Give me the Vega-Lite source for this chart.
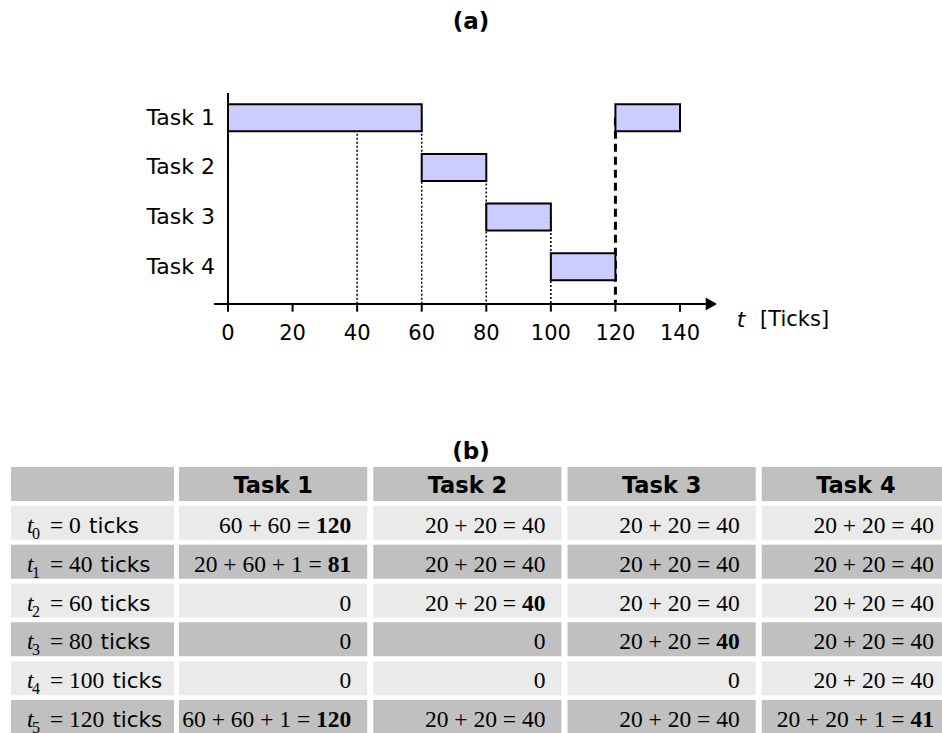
{
  "$schema": "https://vega.github.io/schema/vega-lite/v6.json",
  "width": 942,
  "height": 733,
  "autosize": {"type": "fit", "contains": "padding"},
  "padding": 0,
  "background": "white",
  "config": {"view": {"stroke": null}, "axis": {"disable": true}, "legend": {"disable": true}},
  "datasets": {
    "bars": [
      {"task": "Task 1", "row": 4, "start": 0, "end": 60},
      {"task": "Task 1", "row": 4, "start": 120, "end": 140},
      {"task": "Task 2", "row": 3, "start": 60, "end": 80},
      {"task": "Task 3", "row": 2, "start": 80, "end": 100},
      {"task": "Task 4", "row": 1, "start": 100, "end": 120}
    ],
    "tasks": [
      {"task": "Task 1", "row": 4},
      {"task": "Task 2", "row": 3},
      {"task": "Task 3", "row": 2},
      {"task": "Task 4", "row": 1}
    ],
    "dotted": [
      {"t": 40, "row": 4},
      {"t": 60, "row": 4},
      {"t": 80, "row": 3},
      {"t": 100, "row": 2}
    ],
    "dashed": [{"t": 120, "row": 4}],
    "ticks": [{"tick": 0}, {"tick": 20}, {"tick": 40}, {"tick": 60}, {"tick": 80}, {"tick": 100}, {"tick": 120}, {"tick": 140}],
    "panels": [{"panel": "(a)"}, {"panel": "(b)"}],
    "rows": [
      {"row": "head", "sub": "", "time": ""},
      {"row": "t0", "sub": "0", "time": "0"},
      {"row": "t1", "sub": "1", "time": "40"},
      {"row": "t2", "sub": "2", "time": "60"},
      {"row": "t3", "sub": "3", "time": "80"},
      {"row": "t4", "sub": "4", "time": "100"},
      {"row": "t5", "sub": "5", "time": "120"}
    ],
    "cells": [
      {"row": "head", "task": "Task 1", "expr": "", "value": "", "bold": false},
      {"row": "head", "task": "Task 2", "expr": "", "value": "", "bold": false},
      {"row": "head", "task": "Task 3", "expr": "", "value": "", "bold": false},
      {"row": "head", "task": "Task 4", "expr": "", "value": "", "bold": false},
      {"row": "t0", "task": "Task 1", "expr": "60 + 60 =", "value": "120", "bold": true},
      {"row": "t0", "task": "Task 2", "expr": "20 + 20 =", "value": "40", "bold": false},
      {"row": "t0", "task": "Task 3", "expr": "20 + 20 =", "value": "40", "bold": false},
      {"row": "t0", "task": "Task 4", "expr": "20 + 20 =", "value": "40", "bold": false},
      {"row": "t1", "task": "Task 1", "expr": "20 + 60 + 1 =", "value": "81", "bold": true},
      {"row": "t1", "task": "Task 2", "expr": "20 + 20 =", "value": "40", "bold": false},
      {"row": "t1", "task": "Task 3", "expr": "20 + 20 =", "value": "40", "bold": false},
      {"row": "t1", "task": "Task 4", "expr": "20 + 20 =", "value": "40", "bold": false},
      {"row": "t2", "task": "Task 1", "expr": "", "value": "0", "bold": false},
      {"row": "t2", "task": "Task 2", "expr": "20 + 20 =", "value": "40", "bold": true},
      {"row": "t2", "task": "Task 3", "expr": "20 + 20 =", "value": "40", "bold": false},
      {"row": "t2", "task": "Task 4", "expr": "20 + 20 =", "value": "40", "bold": false},
      {"row": "t3", "task": "Task 1", "expr": "", "value": "0", "bold": false},
      {"row": "t3", "task": "Task 2", "expr": "", "value": "0", "bold": false},
      {"row": "t3", "task": "Task 3", "expr": "20 + 20 =", "value": "40", "bold": true},
      {"row": "t3", "task": "Task 4", "expr": "20 + 20 =", "value": "40", "bold": false},
      {"row": "t4", "task": "Task 1", "expr": "", "value": "0", "bold": false},
      {"row": "t4", "task": "Task 2", "expr": "", "value": "0", "bold": false},
      {"row": "t4", "task": "Task 3", "expr": "", "value": "0", "bold": false},
      {"row": "t4", "task": "Task 4", "expr": "20 + 20 =", "value": "40", "bold": false},
      {"row": "t5", "task": "Task 1", "expr": "60 + 60 + 1 =", "value": "120", "bold": true},
      {"row": "t5", "task": "Task 2", "expr": "20 + 20 =", "value": "40", "bold": false},
      {"row": "t5", "task": "Task 3", "expr": "20 + 20 =", "value": "40", "bold": false},
      {"row": "t5", "task": "Task 4", "expr": "20 + 20 + 1 =", "value": "41", "bold": true}
    ]
  },
  "layer": [
    {
      "layer": [
        {
          "data": {"name": "dotted"},
          "mark": {"type": "rule", "color": "black", "strokeWidth": 1.5, "strokeDash": [2, 2]},
          "encoding": {
            "x": {"field": "t", "type": "quantitative", "scale": {"domain": [0, 140], "range": [228, 680], "nice": false, "zero": false}},
            "y": {"field": "row", "type": "quantitative", "scale": {"domain": [0.25, 4.5], "range": [309, 88], "nice": false, "zero": false}},
            "y2": {"datum": 0.25}
          }
        },
        {
          "data": {"name": "dashed"},
          "mark": {"type": "rule", "color": "black", "strokeWidth": 3, "strokeDash": [8, 5]},
          "encoding": {
            "x": {"field": "t", "type": "quantitative", "scale": {"domain": [0, 140], "range": [228, 680], "nice": false, "zero": false}},
            "y": {"field": "row", "type": "quantitative", "scale": {"domain": [0.25, 4.5], "range": [309, 88], "nice": false, "zero": false}},
            "y2": {"datum": 0.25}
          }
        },
        {
          "data": {"name": "bars"},
          "mark": {"type": "bar", "orient": "horizontal", "size": 27, "fill": "#ccccff", "stroke": "black", "strokeWidth": 2},
          "encoding": {
            "x": {"field": "start", "type": "quantitative", "scale": {"domain": [0, 140], "range": [228, 680], "nice": false, "zero": false}},
            "x2": {"field": "end"},
            "y": {"field": "row", "type": "quantitative", "scale": {"domain": [0.25, 4.5], "range": [309, 88], "nice": false, "zero": false}}
          }
        },
        {
          "data": {"values": [{}]},
          "mark": {"type": "rule", "color": "black", "strokeWidth": 2},
          "encoding": {
            "x": {"datum": 0, "type": "quantitative", "scale": {"domain": [0, 140], "range": [228, 680], "nice": false, "zero": false}},
            "y": {"datum": 0.25, "type": "quantitative", "scale": {"domain": [0.25, 4.5], "range": [309, 88], "nice": false, "zero": false}},
            "y2": {"datum": 4.5}
          }
        },
        {
          "data": {"values": [{}]},
          "mark": {"type": "rule", "color": "black", "strokeWidth": 2},
          "encoding": {
            "x": {"datum": -4.34, "type": "quantitative", "scale": {"domain": [0, 140], "range": [228, 680], "nice": false, "zero": false}},
            "x2": {"datum": 148},
            "y": {"datum": 0.25, "type": "quantitative", "scale": {"domain": [0.25, 4.5], "range": [309, 88], "nice": false, "zero": false}}
          }
        },
        {
          "data": {"values": [{}]},
          "mark": {"type": "point", "shape": "triangle-right", "size": 169, "filled": true, "color": "black", "opacity": 1},
          "encoding": {
            "x": {"datum": 149.7, "type": "quantitative", "scale": {"domain": [0, 140], "range": [228, 680], "nice": false, "zero": false}},
            "y": {"datum": 0.25, "type": "quantitative", "scale": {"domain": [0.25, 4.5], "range": [309, 88], "nice": false, "zero": false}}
          }
        },
        {
          "data": {"name": "ticks"},
          "mark": {"type": "rule", "color": "black", "strokeWidth": 2},
          "encoding": {
            "x": {"field": "tick", "type": "quantitative", "scale": {"domain": [0, 140], "range": [228, 680], "nice": false, "zero": false}},
            "y": {"datum": 0.25, "type": "quantitative", "scale": {"domain": [0.25, 4.5], "range": [309, 88], "nice": false, "zero": false}},
            "y2": {"datum": 0.096}
          }
        },
        {
          "data": {"name": "ticks"},
          "mark": {"type": "text", "font": "DejaVu Sans", "fontSize": 21, "color": "black", "align": "center", "baseline": "middle"},
          "encoding": {
            "x": {"field": "tick", "type": "quantitative", "scale": {"domain": [0, 140], "range": [228, 680], "nice": false, "zero": false}},
            "y": {"datum": -0.36, "type": "quantitative", "scale": {"domain": [0.25, 4.5], "range": [309, 88], "nice": false, "zero": false}},
            "text": {"field": "tick", "type": "quantitative"}
          }
        },
        {
          "data": {"name": "tasks"},
          "mark": {"type": "text", "font": "DejaVu Sans", "fontSize": 22, "color": "black", "align": "right", "baseline": "middle", "dx": -13},
          "encoding": {
            "x": {"datum": 0, "type": "quantitative", "scale": {"domain": [0, 140], "range": [228, 680], "nice": false, "zero": false}},
            "y": {"field": "row", "type": "quantitative", "scale": {"domain": [0.25, 4.5], "range": [309, 88], "nice": false, "zero": false}},
            "text": {"field": "task"}
          }
        },
        {
          "data": {"values": [{}]},
          "mark": {"type": "text", "text": "t", "font": "DejaVu Sans", "fontSize": 22, "fontStyle": "italic", "color": "black", "align": "center", "baseline": "middle"},
          "encoding": {
            "x": {"datum": 158.9, "type": "quantitative", "scale": {"domain": [0, 140], "range": [228, 680], "nice": false, "zero": false}},
            "y": {"datum": -0.07, "type": "quantitative", "scale": {"domain": [0.25, 4.5], "range": [309, 88], "nice": false, "zero": false}}
          }
        },
        {
          "data": {"values": [{}]},
          "mark": {"type": "text", "text": "[Ticks]", "font": "DejaVu Sans", "fontSize": 21, "color": "black", "align": "left", "baseline": "middle"},
          "encoding": {
            "x": {"datum": 164.8, "type": "quantitative", "scale": {"domain": [0, 140], "range": [228, 680], "nice": false, "zero": false}},
            "y": {"datum": -0.07, "type": "quantitative", "scale": {"domain": [0.25, 4.5], "range": [309, 88], "nice": false, "zero": false}}
          }
        }
      ]
    },
    {
      "data": {"name": "panels"},
      "mark": {"type": "text", "font": "DejaVu Sans", "fontSize": 23, "fontWeight": "bold", "color": "black", "align": "center", "baseline": "middle"},
      "encoding": {
        "x": {"datum": 0.5, "type": "quantitative", "scale": {"domain": [0, 1], "range": [0, 942], "nice": false, "zero": false}},
        "y": {"field": "panel", "type": "ordinal", "scale": {"type": "point", "domain": ["(a)", "(b)"], "range": [22, 452], "padding": 0}},
        "text": {"field": "panel"}
      }
    },
    {
      "layer": [
        {
          "data": {"name": "rows"},
          "layer": [
            {
              "mark": {"type": "rect"},
              "encoding": {
                "x": {"datum": 0, "type": "quantitative", "scale": {"domain": [0, 1], "range": [11, 174], "nice": false, "zero": false}},
                "x2": {"datum": 1},
                "y": {"field": "row", "type": "ordinal", "scale": {"domain": ["head", "t0", "t1", "t2", "t3", "t4", "t5"], "range": [467, 734], "paddingInner": 0.124, "paddingOuter": 0}},
                "color": {"field": "row", "type": "nominal", "scale": {"domain": ["head", "t0", "t1", "t2", "t3", "t4", "t5"], "range": ["#c0c0c0", "#eaeaea", "#c0c0c0", "#eaeaea", "#c0c0c0", "#eaeaea", "#c0c0c0"]}, "legend": null}
              }
            },
            {
              "transform": [{"filter": "datum.row != 'head'"}],
              "mark": {"type": "text", "text": "t", "font": "Liberation Serif", "fontSize": 23.5, "fontStyle": "italic", "color": "black", "align": "left", "baseline": "alphabetic", "dx": 16, "dy": 10},
              "encoding": {
                "x": {"datum": 0, "type": "quantitative", "scale": {"domain": [0, 1], "range": [11, 174], "nice": false, "zero": false}},
                "y": {"field": "row", "type": "ordinal", "scale": {"domain": ["head", "t0", "t1", "t2", "t3", "t4", "t5"], "range": [467, 734], "paddingInner": 0.124, "paddingOuter": 0}}
              }
            },
            {
              "transform": [{"filter": "datum.row != 'head'"}],
              "mark": {"type": "text", "font": "Liberation Serif", "fontSize": 16, "color": "black", "align": "left", "baseline": "alphabetic", "dx": 21, "dy": 16},
              "encoding": {
                "x": {"datum": 0, "type": "quantitative", "scale": {"domain": [0, 1], "range": [11, 174], "nice": false, "zero": false}},
                "y": {"field": "row", "type": "ordinal", "scale": {"domain": ["head", "t0", "t1", "t2", "t3", "t4", "t5"], "range": [467, 734], "paddingInner": 0.124, "paddingOuter": 0}},
                "text": {"field": "sub"}
              }
            },
            {
              "transform": [{"filter": "datum.row != 'head'"}],
              "mark": {"type": "text", "text": "=", "font": "Liberation Serif", "fontSize": 23.5, "color": "black", "align": "left", "baseline": "alphabetic", "dx": 39, "dy": 10},
              "encoding": {
                "x": {"datum": 0, "type": "quantitative", "scale": {"domain": [0, 1], "range": [11, 174], "nice": false, "zero": false}},
                "y": {"field": "row", "type": "ordinal", "scale": {"domain": ["head", "t0", "t1", "t2", "t3", "t4", "t5"], "range": [467, 734], "paddingInner": 0.124, "paddingOuter": 0}}
              }
            },
            {
              "transform": [{"filter": "datum.row != 'head'"}],
              "mark": {"type": "text", "font": "Liberation Serif", "fontSize": 23.5, "color": "black", "align": "left", "baseline": "alphabetic", "dx": 58, "dy": 10},
              "encoding": {
                "x": {"datum": 0, "type": "quantitative", "scale": {"domain": [0, 1], "range": [11, 174], "nice": false, "zero": false}},
                "y": {"field": "row", "type": "ordinal", "scale": {"domain": ["head", "t0", "t1", "t2", "t3", "t4", "t5"], "range": [467, 734], "paddingInner": 0.124, "paddingOuter": 0}},
                "text": {"field": "time"}
              }
            },
            {
              "transform": [{"filter": "datum.row != 'head' && length(datum.time) == 1"}],
              "mark": {"type": "text", "text": "ticks", "font": "DejaVu Sans", "fontSize": 21.5, "color": "black", "align": "left", "baseline": "alphabetic", "dx": 78, "dy": 10},
              "encoding": {
                "x": {"datum": 0, "type": "quantitative", "scale": {"domain": [0, 1], "range": [11, 174], "nice": false, "zero": false}},
                "y": {"field": "row", "type": "ordinal", "scale": {"domain": ["head", "t0", "t1", "t2", "t3", "t4", "t5"], "range": [467, 734], "paddingInner": 0.124, "paddingOuter": 0}}
              }
            },
            {
              "transform": [{"filter": "datum.row != 'head' && length(datum.time) == 2"}],
              "mark": {"type": "text", "text": "ticks", "font": "DejaVu Sans", "fontSize": 21.5, "color": "black", "align": "left", "baseline": "alphabetic", "dx": 89.6, "dy": 10},
              "encoding": {
                "x": {"datum": 0, "type": "quantitative", "scale": {"domain": [0, 1], "range": [11, 174], "nice": false, "zero": false}},
                "y": {"field": "row", "type": "ordinal", "scale": {"domain": ["head", "t0", "t1", "t2", "t3", "t4", "t5"], "range": [467, 734], "paddingInner": 0.124, "paddingOuter": 0}}
              }
            },
            {
              "transform": [{"filter": "datum.row != 'head' && length(datum.time) == 3"}],
              "mark": {"type": "text", "text": "ticks", "font": "DejaVu Sans", "fontSize": 21.5, "color": "black", "align": "left", "baseline": "alphabetic", "dx": 101.4, "dy": 10},
              "encoding": {
                "x": {"datum": 0, "type": "quantitative", "scale": {"domain": [0, 1], "range": [11, 174], "nice": false, "zero": false}},
                "y": {"field": "row", "type": "ordinal", "scale": {"domain": ["head", "t0", "t1", "t2", "t3", "t4", "t5"], "range": [467, 734], "paddingInner": 0.124, "paddingOuter": 0}}
              }
            }
          ]
        },
        {
          "data": {"name": "cells"},
          "layer": [
            {
              "mark": {"type": "rect"},
              "encoding": {
                "x": {"field": "task", "type": "nominal", "scale": {"domain": ["Task 1", "Task 2", "Task 3", "Task 4"], "range": [179, 950], "paddingInner": 0.031, "paddingOuter": 0}},
                "y": {"field": "row", "type": "ordinal", "scale": {"domain": ["head", "t0", "t1", "t2", "t3", "t4", "t5"], "range": [467, 734], "paddingInner": 0.124, "paddingOuter": 0}},
                "color": {"field": "row", "type": "nominal", "scale": {"domain": ["head", "t0", "t1", "t2", "t3", "t4", "t5"], "range": ["#c0c0c0", "#eaeaea", "#c0c0c0", "#eaeaea", "#c0c0c0", "#eaeaea", "#c0c0c0"]}, "legend": null}
              }
            },
            {
              "transform": [{"filter": "datum.row == 'head'"}],
              "mark": {"type": "text", "font": "DejaVu Sans", "fontSize": 22.5, "fontWeight": "bold", "color": "black", "align": "center", "baseline": "alphabetic", "dy": 9},
              "encoding": {
                "x": {"field": "task", "type": "nominal", "scale": {"domain": ["Task 1", "Task 2", "Task 3", "Task 4"], "range": [179, 950], "paddingInner": 0.031, "paddingOuter": 0}},
                "y": {"field": "row", "type": "ordinal", "scale": {"domain": ["head", "t0", "t1", "t2", "t3", "t4", "t5"], "range": [467, 734], "paddingInner": 0.124, "paddingOuter": 0}},
                "text": {"field": "task"}
              }
            },
            {
              "transform": [{"filter": "datum.row != 'head' && !datum.bold"}],
              "mark": {"type": "text", "font": "Liberation Serif", "fontSize": 23.5, "color": "black", "align": "right", "baseline": "alphabetic", "dx": -16, "dy": 10},
              "encoding": {
                "x": {"field": "task", "type": "nominal", "bandPosition": 1, "scale": {"domain": ["Task 1", "Task 2", "Task 3", "Task 4"], "range": [179, 950], "paddingInner": 0.031, "paddingOuter": 0}},
                "y": {"field": "row", "type": "ordinal", "scale": {"domain": ["head", "t0", "t1", "t2", "t3", "t4", "t5"], "range": [467, 734], "paddingInner": 0.124, "paddingOuter": 0}},
                "text": {"field": "value"}
              }
            },
            {
              "transform": [{"filter": "datum.row != 'head' && datum.bold"}],
              "mark": {"type": "text", "font": "Liberation Serif", "fontSize": 23.5, "fontWeight": "bold", "color": "black", "align": "right", "baseline": "alphabetic", "dx": -16, "dy": 10},
              "encoding": {
                "x": {"field": "task", "type": "nominal", "bandPosition": 1, "scale": {"domain": ["Task 1", "Task 2", "Task 3", "Task 4"], "range": [179, 950], "paddingInner": 0.031, "paddingOuter": 0}},
                "y": {"field": "row", "type": "ordinal", "scale": {"domain": ["head", "t0", "t1", "t2", "t3", "t4", "t5"], "range": [467, 734], "paddingInner": 0.124, "paddingOuter": 0}},
                "text": {"field": "value"}
              }
            },
            {
              "transform": [{"filter": "datum.expr != '' && length(datum.value) == 2"}],
              "mark": {"type": "text", "font": "Liberation Serif", "fontSize": 23.5, "color": "black", "align": "right", "baseline": "alphabetic", "dx": -45.4, "dy": 10},
              "encoding": {
                "x": {"field": "task", "type": "nominal", "bandPosition": 1, "scale": {"domain": ["Task 1", "Task 2", "Task 3", "Task 4"], "range": [179, 950], "paddingInner": 0.031, "paddingOuter": 0}},
                "y": {"field": "row", "type": "ordinal", "scale": {"domain": ["head", "t0", "t1", "t2", "t3", "t4", "t5"], "range": [467, 734], "paddingInner": 0.124, "paddingOuter": 0}},
                "text": {"field": "expr"}
              }
            },
            {
              "transform": [{"filter": "datum.expr != '' && length(datum.value) == 3"}],
              "mark": {"type": "text", "font": "Liberation Serif", "fontSize": 23.5, "color": "black", "align": "right", "baseline": "alphabetic", "dx": -57, "dy": 10},
              "encoding": {
                "x": {"field": "task", "type": "nominal", "bandPosition": 1, "scale": {"domain": ["Task 1", "Task 2", "Task 3", "Task 4"], "range": [179, 950], "paddingInner": 0.031, "paddingOuter": 0}},
                "y": {"field": "row", "type": "ordinal", "scale": {"domain": ["head", "t0", "t1", "t2", "t3", "t4", "t5"], "range": [467, 734], "paddingInner": 0.124, "paddingOuter": 0}},
                "text": {"field": "expr"}
              }
            }
          ]
        }
      ],
      "resolve": {"scale": {"x": "independent"}}
    }
  ],
  "resolve": {"scale": {"x": "independent", "y": "independent"}}
}
